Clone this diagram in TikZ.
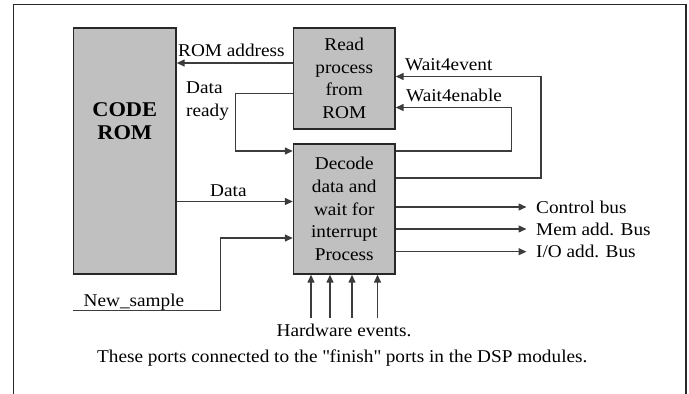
\documentclass[tikz,border=0pt]{standalone}
\usepackage{fontspec}
\setmainfont{Liberation Serif}[FakeStretch=1.07]
\usetikzlibrary{arrows.meta}
\definecolor{boxfill}{RGB}{192,192,192}
\definecolor{edge}{RGB}{40,40,40}
\definecolor{wire}{RGB}{60,60,60}
\begin{document}
\begin{tikzpicture}[x=1pt,y=-1pt,
  block/.style={draw=edge,fill=boxfill,line width=1.4pt,inner sep=0pt,
    font=\fontsize{18}{22.6}\selectfont,align=center},
  lbl/.style={inner sep=0pt,font=\fontsize{18}{22.6}\selectfont},
  wireline/.style={draw=wire,line width=1.4pt},
  arr/.style={wireline,-{Triangle[length=8pt,width=7pt]}}]
  \useasboundingbox (0,0) rectangle (689,394);
  % outer frame, open at the bottom
  \draw[edge,line width=1.8pt] (13.5,400) -- (13.5,4.5) -- (686,4.5) -- (686,400);

  % blocks
  \node[block,minimum width=102.5pt,minimum height=246pt] (rom) at (124.75,151) {};
  \node[font=\fontsize{21}{23}\bfseries\selectfont,align=center,inner sep=0pt]
    (romtxt) at (124.75,121) {CODE\\ROM};
  \node[block,minimum width=101.5pt,minimum height=101pt] (read) at (344.25,78.5)
    {Read\\process\\from\\ROM};
  \node[block,minimum width=101.5pt,minimum height=130pt] (decode) at (344.25,209)
    {Decode\\data and\\wait for\\interrupt\\Process};

  % bends and free ends
  \coordinate (drA) at (235.4,93.3);
  \coordinate (drB) at (235.4,151);
  \coordinate (nsA) at (72.6,310.7);
  \coordinate (nsB) at (220.5,310.7);
  \coordinate (nsC) at (220.5,238);
  \coordinate (enA) at (511.7,151);
  \coordinate (enB) at (511.7,107.5);
  \coordinate (evA) at (541,178);
  \coordinate (evB) at (541,76.5);
  \coordinate (cb) at (526.5,207);
  \coordinate (mb) at (526.5,229);
  \coordinate (ib) at (526.5,251.7);
  \coordinate (h1) at (311,317.7);
  \coordinate (h2) at (330,317.7);
  \coordinate (h3) at (352,317.7);
  \coordinate (h4) at (377.5,317.7);

  % connectors
  \draw[arr] (read.west |- 0,63) -- (rom.east |- 0,63);
  \draw[arr] (read.west |- drA) -- (drA) -- (drB) -- (decode.west |- drB);
  \draw[arr] (rom.east |- 0,201.5) -- (decode.west |- 0,201.5);
  \draw[arr] (nsA) -- (nsB) -- (nsC) -- (decode.west |- nsC);
  \draw[arr] (decode.east |- enA) -- (enA) -- (enB) -- (read.east |- enB);
  \draw[arr] (decode.east |- evA) -- (evA) -- (evB) -- (read.east |- evB);
  \draw[arr] (decode.east |- cb) -- (cb);
  \draw[arr] (decode.east |- mb) -- (mb);
  \draw[arr] (decode.east |- ib) -- (ib);
  \foreach \h in {h1,h2,h3,h4}
    \draw[arr] (\h) -- (decode.south -| \h);

  % labels
  \node[lbl,anchor=base west] (la) at (178,56) {ROM address};
  \node[lbl,anchor=base west,align=left] (ldr) at (186,116.5) {Data\\ready};
  \node[lbl,anchor=base west] (ld) at (210,196.5) {Data};
  \node[lbl,anchor=base west] (lns) at (83.5,306) {New\_sample};
  \node[lbl,anchor=base west] (lev) at (405,70) {Wait4event};
  \node[lbl,anchor=base west] (len) at (406,101) {Wait4enable};
  \node[lbl,anchor=base west] (lcb) at (536,213.3) {Control bus};
  \node[lbl,anchor=base west] (lmb) at (536,235.7) {Mem add. Bus};
  \node[lbl,anchor=base west] (lib) at (536,257.3) {I/O add. Bus};
  \node[lbl,anchor=base] (lhw) at (344,336.7) {Hardware events.};
  \node[lbl,anchor=base west] (lnote) at (97,362.7)
    {These ports connected to the \textquotedbl finish\textquotedbl\ ports in the DSP modules.};
\end{tikzpicture}
\end{document}
